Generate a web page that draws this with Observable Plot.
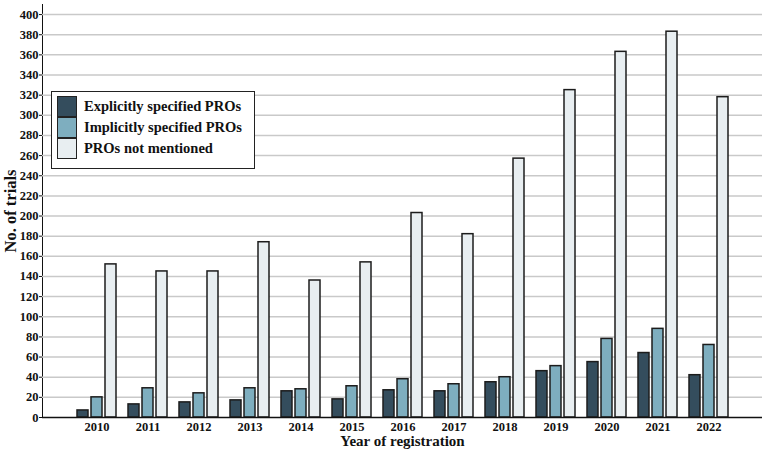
<!DOCTYPE html>
<html>
<head>
<meta charset="utf-8">
<script src="https://cdn.jsdelivr.net/npm/d3@7"></script>
<script src="https://cdn.jsdelivr.net/npm/@observablehq/plot@0.6"></script>
<style>
  html, body { margin: 0; padding: 0; background: #fff; }
  #chart { position: relative; width: 767px; height: 453px; }
  .legend { position: absolute; left: 51px; top: 91px; width: 197px; height: 72px;
    border: 1.5px solid #222; background: #fff; padding: 4px 0 0 5px; box-sizing: content-box;
    font-family: "Liberation Serif", serif; font-weight: bold; font-size: 14.5px; color: #111; }
  .legend .row { display: flex; align-items: center; height: 21px; }
  .legend .sw { width: 18px; height: 19px; border: 1.5px solid #222; margin-right: 7px; }
</style>
</head>
<body>
<div id="chart"></div>
<script>
const years = ["2010","2011","2012","2013","2014","2015","2016","2017","2018","2019","2020","2021","2022"];
const explicitPROs = [7, 13, 15, 17, 26, 18, 27, 26, 35, 46, 55, 64, 42];
const implicitPROs = [20, 29, 24, 29, 28, 31, 38, 33, 40, 51, 78, 88, 72];
const notMentioned = [152, 145, 145, 174, 136, 154, 203, 182, 257, 325, 363, 383, 318];
const seriesNames = ["Explicitly specified PROs", "Implicitly specified PROs", "PROs not mentioned"];
const seriesColors = ["#344d5d", "#7eaebf", "#e8eef1"];
const yTicks = d3.range(0, 401, 20);

const seriesValues = [explicitPROs, implicitPROs, notMentioned];
const data = years.flatMap((yr, i) => seriesNames.map((s, k) => ({year: yr, series: s, value: seriesValues[k][i]})));

const plot = Plot.plot({
  width: 767,
  height: 453,
  marginLeft: 42,
  marginRight: 5,
  marginTop: 4,
  marginBottom: 36,
  style: {fontFamily: "'Liberation Serif', serif", fontWeight: "bold", fontSize: "12.5px", color: "#111", background: "white"},
  x: {domain: years, paddingInner: 0, paddingOuter: 0.51, label: null, tickSize: 0, tickPadding: 5},
  y: {domain: [0, 410], ticks: yTicks, label: null, tickSize: 3, tickPadding: 1, line: true},
  marks: [
    Plot.ruleY(yTicks.filter(d => d > 0), {stroke: "#c9c9c9", strokeWidth: 1.5}),
    ...seriesNames.map((s, k) => Plot.barY(data.filter(d => d.series === s), {
      x: "year", y: "value", fill: seriesColors[k], stroke: "#1c1c1c", strokeWidth: 1.5,
      insetLeft: 20, insetRight: 20, dx: (k - 1) * 14
    })),
    Plot.ruleY([0], {stroke: "#111", strokeWidth: 1.5}),
    Plot.text(["Year of registration"], {frameAnchor: "bottom", lineAnchor: "middle", textAnchor: "middle", dy: 24, fontSize: 15, fontWeight: "bold", fill: "#111"}),
    Plot.text(["No. of trials"], {frameAnchor: "left", lineAnchor: "middle", textAnchor: "middle", rotate: -90, dx: -32, fontSize: 16.5, fontWeight: "bold", fill: "#111"})
  ]
});
const chart = document.getElementById("chart");
chart.appendChild(plot);

const legend = document.createElement("div");
legend.className = "legend";
seriesNames.forEach((s, k) => {
  const row = document.createElement("div");
  row.className = "row";
  const sw = document.createElement("div");
  sw.className = "sw";
  sw.style.background = seriesColors[k];
  const t = document.createElement("span");
  t.textContent = s;
  row.appendChild(sw);
  row.appendChild(t);
  legend.appendChild(row);
});
chart.appendChild(legend);
</script>
</body>
</html>
